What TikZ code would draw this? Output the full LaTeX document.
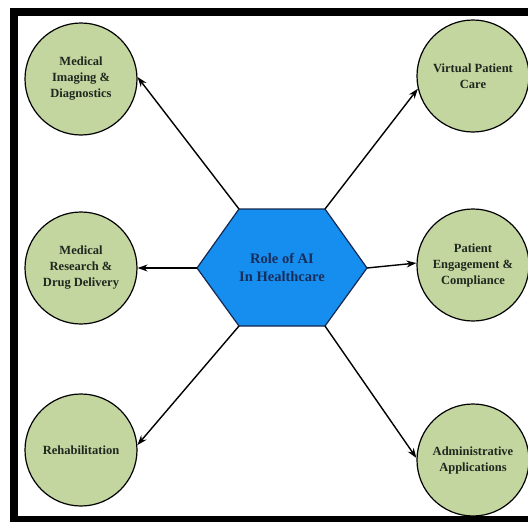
\documentclass[tikz,border=0pt]{standalone}
\usepackage{fontspec}
\setmainfont{Liberation Serif}
\usetikzlibrary{arrows.meta}
\definecolor{sage}{RGB}{196,214,160}
\definecolor{hexblue}{RGB}{22,142,240}
\definecolor{hexline}{RGB}{20,40,80}
\definecolor{hextext}{RGB}{25,45,90}
\definecolor{circtext}{RGB}{30,40,30}
\tikzset{
  topic/.style={circle, draw=black, line width=1.2pt, fill=sage, minimum size=112pt,
    inner sep=0pt, align=center, text=circtext,
    font=\fontsize{12.5pt}{16pt}\selectfont\bfseries},
  arr/.style={line width=1.4pt, -{Stealth[length=10pt,width=7pt]}},
}
\begin{document}
\begin{tikzpicture}[x=1pt,y=-1pt]
\useasboundingbox (0,0) rectangle (528,522);
\begin{scope}
\clip (0,0) rectangle (528,522);
\fill[black] (10,8) rectangle (560,560);
\fill[white] (18,16) rectangle (560,516);
\end{scope}
% hexagon
\coordinate (hw) at (197,268);
\coordinate (htl) at (239,209);
\coordinate (htr) at (325,209);
\coordinate (he) at (367,268);
\coordinate (hbr) at (325,326);
\coordinate (hbl) at (239,326);
\draw[fill=hexblue, draw=hexline, line width=1.2pt] (hw) -- (htl) -- (htr) -- (he) -- (hbr) -- (hbl) -- cycle;
\node[align=center, text=hextext, font=\fontsize{14.5pt}{18pt}\selectfont\bfseries] (hub) at (282,267) {Role of AI\\In Healthcare};
% topics
\node[topic] (mi) at (81,79) {Medical\\Imaging \&\\Diagnostics};
\node[topic] (mr) at (81,268) {Medical\\Research \&\\Drug Delivery};
\node[topic] (rh) at (81,450) {Rehabilitation};
\node[topic] (vp) at (473,76) {Virtual Patient\\Care};
\node[topic] (pe) at (473,265) {Patient\\Engagement \&\\Compliance};
\node[topic] (ad) at (473,460) {Administrative\\Applications};
% connectors
\draw[arr] (htl) -- (mi.2);
\draw[arr] (hw) -- (mr.east);
\draw[arr] (hbl) -- (rh.5);
\draw[arr] (htr) -- (vp.193);
\draw[arr] (he) -- (pe.178);
\draw[arr] (hbr) -- (ad.178);
\end{tikzpicture}
\end{document}
